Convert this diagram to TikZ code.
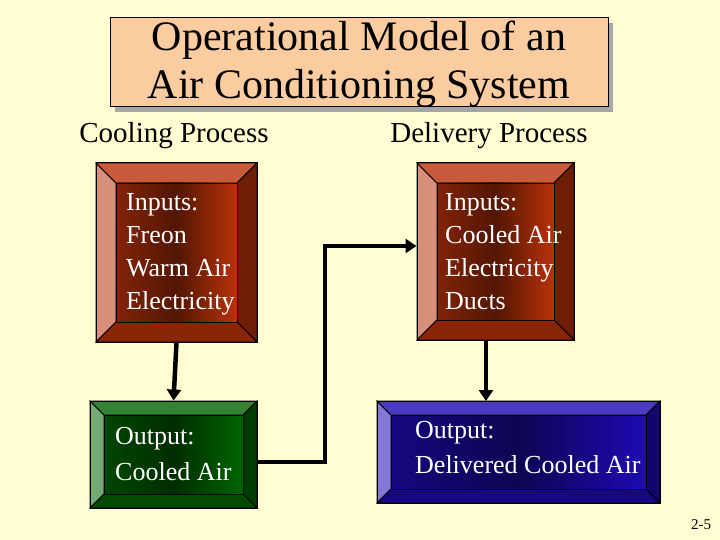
\documentclass[tikz,border=0pt]{standalone}
\usepackage{fontspec}
\setmainfont{Liberation Serif}
\begin{document}
\begin{tikzpicture}[x=1pt,y=-1pt,
  conn/.style={line width=4.5pt,-{Triangle[length=11pt,width=14pt]}},
  plain/.style={line width=4.5pt},
  lbl/.style={font=\fontsize{29}{31}\selectfont,anchor=center},
  btxt/.style={text=white,font=\fontsize{26}{33}\selectfont,align=left,anchor=north west,inner sep=0pt}]
\usetikzlibrary{arrows.meta}
\fill[yellow!18] (0,0) rectangle (720,540);
\useasboundingbox (0,0) rectangle (720,540);
\newcommand{\bevelbox}[7]{% name x1 y1 x2 y2 b color
  \fill[#7!55!white,draw=black,line width=0.8pt] (#2,#3) -- (#2+#6,#3+#6) -- (#2+#6,#5-#6) -- (#2,#5) -- cycle;
  \fill[#7!80!white,draw=black,line width=0.8pt] (#2,#3) -- (#4,#3) -- (#4-#6,#3+#6) -- (#2+#6,#3+#6) -- cycle;
  \fill[#7!60!black,draw=black,line width=0.8pt] (#4,#3) -- (#4,#5) -- (#4-#6,#5-#6) -- (#4-#6,#3+#6) -- cycle;
  \fill[#7!75!black,draw=black,line width=0.8pt] (#2,#5) -- (#4,#5) -- (#4-#6,#5-#6) -- (#2+#6,#5-#6) -- cycle;
  \shade[left color=#7!70!black,right color=#7,middle color=#7!45!black,draw=black,line width=0.8pt] (#2+#6,#3+#6) rectangle (#4-#6,#5-#6);
  \node[minimum width=#4-#2,minimum height=#5-#3,inner sep=0pt,draw=black,line width=1pt] (#1) at ({(#2+#4)/2},{(#3+#5)/2}) {};
}
\definecolor{rust}{RGB}{185,50,10}
\definecolor{ogreen}{RGB}{0,100,0}
\definecolor{oblue}{RGB}{30,10,180}
\definecolor{peach}{RGB}{250,204,160}
% title
\fill[gray!70] (115,23) rectangle (613,112);
\node[draw=black,line width=1pt,fill=peach,minimum width=498,minimum height=89,inner sep=0pt] (title) at (359,62.5) {};
\node[font=\fontsize{42}{48}\selectfont,align=center] (tt) at (359,64) {Operational Model of an\\Air Conditioning System};
\node[lbl] (cp) at (174,136) {Cooling Process};
\node[lbl] (dp) at (489,136) {Delivery Process};
\bevelbox{b1}{96}{163}{257}{342}{20}{rust}
\bevelbox{b2}{417}{163}{574}{340}{20}{rust}
\bevelbox{b3}{90}{401}{257}{508}{14}{ogreen}
\bevelbox{b4}{377}{401}{660}{503}{14}{oblue}
\node[btxt] (t1) at (126,193) {Inputs:\\Freon\\Warm Air\\Electricity};
\node[btxt] (t2) at (445,193) {Inputs:\\Cooled Air\\Electricity\\Ducts};
\node[btxt,font=\fontsize{26}{36}\selectfont] (t3) at (115,427) {Output:\\Cooled Air};
\node[btxt,font=\fontsize{26}{35}\selectfont] (t4) at (415,421) {Output:\\Delivered Cooled Air};
\draw[conn] (b1.south) -- (b3.north);
\draw[conn] (b2.south -| 486,0) -- (486,401);
\coordinate (c1) at (325,462);
\coordinate (c2) at (325,246);
\draw[plain] (b3.east |- c1) -- (c1) -- (c2);
\draw[conn] ([xshift=-2.25pt]c2) -- (b2.west |- c2);
\node[font=\fontsize{15}{17}\selectfont] (pg) at (701,525) {2-5};
\end{tikzpicture}
\end{document}
